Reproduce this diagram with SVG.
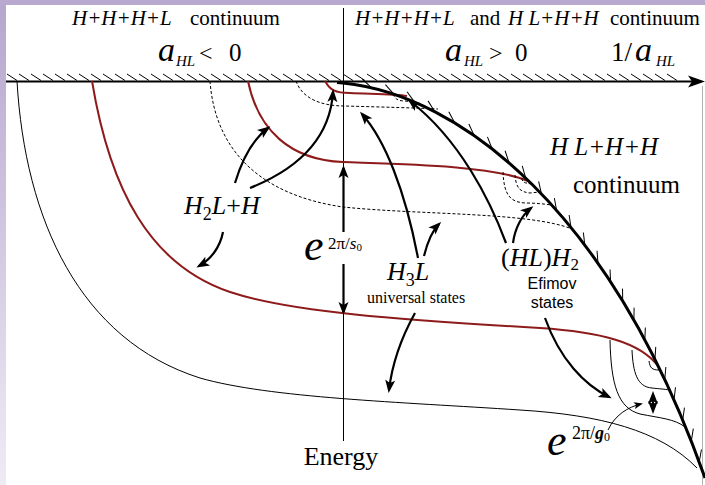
<svg xmlns="http://www.w3.org/2000/svg" width="705" height="485" viewBox="0 0 705 485">
<defs>
<linearGradient id="lg" x1="0" y1="0" x2="0" y2="1">
<stop offset="0" stop-color="#b6a6ce"/>
<stop offset="1" stop-color="#efebf5"/>
</linearGradient>
<marker id="tick" markerUnits="userSpaceOnUse" markerWidth="30" markerHeight="30" refX="0" refY="0" orient="auto" overflow="visible">
<path d="M0,0 L-11,-6.5" stroke="#000" stroke-width="1" fill="none"/>
</marker>
<marker id="ah" markerUnits="userSpaceOnUse" markerWidth="30" markerHeight="30" refX="0" refY="0" orient="auto-start-reverse" overflow="visible">
<path d="M3,0 L-10,-5 L-7,0 L-10,5 Z" fill="#000"/>
</marker>
<marker id="ahs" markerUnits="userSpaceOnUse" markerWidth="20" markerHeight="20" refX="0" refY="0" orient="auto" overflow="visible">
<path d="M2,0 L-7,-3.5 L-5,0 L-7,3.5 Z" fill="#000"/>
</marker>
</defs>
<style>
.serif{font-family:"Liberation Serif","Times New Roman",serif;fill:#000}
.sans{font-family:"Liberation Sans",Arial,sans-serif;fill:#000}
.it{font-style:italic}
.red{fill:none;stroke:#8e1b1b;stroke-width:2}
.thin{fill:none;stroke:#000;stroke-width:1}
.dash{fill:none;stroke:#000;stroke-width:1;stroke-dasharray:3,2}
.arr{fill:none;stroke:#000;stroke-width:2.2;marker-end:url(#ah)}
</style>
<rect x="0" y="0" width="705" height="485" fill="#fff"/>
<rect x="0" y="0" width="6" height="485" fill="url(#lg)"/>
<rect x="0" y="0" width="705" height="5" fill="#b9a9d1"/>
<line x1="702.5" y1="86" x2="702.5" y2="485" stroke="#b0b0b0" stroke-width="1"/>

<g id="axes">
<path d="M6,81.5 H692" stroke="#000" stroke-width="1.8" fill="none"/>
<path d="M705,81.5 L688,75.5 L692,81.5 L688,87.5 Z" fill="#000"/>
<path d="M7,74l10,6.5M19,74l10,6.5M31,74l10,6.5M43,74l10,6.5M55,74l10,6.5M67,74l10,6.5M79,74l10,6.5M91,74l10,6.5M103,74l10,6.5M115,74l10,6.5M127,74l10,6.5M139,74l10,6.5M151,74l10,6.5M163,74l10,6.5M175,74l10,6.5M187,74l10,6.5M199,74l10,6.5M211,74l10,6.5M223,74l10,6.5M235,74l10,6.5M247,74l10,6.5M259,74l10,6.5M271,74l10,6.5M283,74l10,6.5M295,74l10,6.5M307,74l10,6.5M319,74l10,6.5M331,74l10,6.5M343,74l10,6.5M355,74l10,6.5M367,74l10,6.5M379,74l10,6.5M391,74l10,6.5M403,74l10,6.5M415,74l10,6.5M427,74l10,6.5M439,74l10,6.5M451,74l10,6.5M463,74l10,6.5M475,74l10,6.5M487,74l10,6.5M499,74l10,6.5M511,74l10,6.5M523,74l10,6.5M535,74l10,6.5M547,74l10,6.5M559,74l10,6.5M571,74l10,6.5M583,74l10,6.5M595,74l10,6.5M607,74l10,6.5M619,74l10,6.5M631,74l10,6.5M643,74l10,6.5M655,74l10,6.5M667,74l10,6.5" stroke="#000" stroke-width="1" fill="none"/>
<path d="M343.5,8 V232 M343.5,264 V441" stroke="#000" stroke-width="1" fill="none"/>
</g>

<g id="states">
<path class="thin" d="M17,81 C25,220 80,340 200,378 C270,398 400,402 520,410 C600,415 660,430 697,468"/>
<path class="red" d="M92,81 C110,190 150,265 230,292 C290,312 400,320 540,328 C600,332 640,342 658,366"/>
<path class="red" d="M248,81 C258,130 290,160 343,162 C400,164 490,165 528,181"/>
<path class="red" d="M325,81 C330,90 335,93 350,93 C370,94 395,94 407,96"/>
<path class="dash" d="M210,81 C215,150 260,195 343,207 C420,215 530,212 572,229"/>
<path class="dash" d="M296,81 C302,98 320,106 345,106 C380,107 420,108 438,109"/>
<path class="dash" d="M393,94 C395,99 398,101 405,101 L414,102"/>
<path class="dash" d="M503,172 C504,195 510,202 525,203 C535,203 545,204 551,205"/>
<path class="dash" d="M515,175 C516,188 520,192 530,193 L540,192"/>
<path class="dash" d="M522,178 C522,182 524,183 532,184"/>
<path class="thin" d="M610,340 C611,385 618,408 640,414 C660,418 675,419 685,427"/>
<path class="thin" d="M632,350 C633,372 637,387 652,388 C660,389 665,389 669,390"/>
<path class="thin" d="M649,361 C650,368 652,370 659,370"/>
</g>

<g id="threshold">
<path d="M337,82.5 L343,83 C460,95 610,210 705,478" fill="none" stroke="#000" stroke-width="3"/>
<polyline fill="none" stroke="none" marker-mid="url(#tick)" points="343,83 371.7,87.9 393.8,94.2 414.6,102.1 434.8,111.7 454.8,123 474.2,135.6 492.1,148.8 509.1,162.9 525.7,178.1 541.5,193.9 556.7,210.6 571,227.6 584.8,245.2 598,263.5 610.6,282.2 622.7,301.4 633.9,320.4 644.8,340.2 654.9,359.6 664.7,379.8 674,400 682.7,420.3 691.3,441.2 699.2,462.1 705,478"/>
</g>

<g id="connectors">
<path class="arr" d="M235,183 C242,160 252,140 268,128"/>
<path class="arr" d="M250,188 C295,170 330,140 333,92"/>
<path class="arr" d="M223,232 C220,248 210,260 199,266"/>
<path class="arr" d="M343.5,232 V168"/>
<path class="arr" d="M343.5,264 V312"/>
<path class="arr" d="M418,258 C405,190 385,140 362,114"/>
<path class="arr" d="M424,256 C428,240 433,230 439,224"/>
<path class="arr" d="M415,313 C400,340 392,365 389,390"/>
<path class="arr" d="M506,243 C490,200 460,140 410,101"/>
<path class="arr" d="M513,243 C515,228 522,215 531,208"/>
<path class="arr" d="M545,318 C560,360 585,385 609,397"/>
<path d="M653,394 V411" fill="none" stroke="#000" stroke-width="2" marker-start="url(#ah)" marker-end="url(#ah)"/>
<path d="M608,430 C615,415 628,407 641,404" fill="none" stroke="#000" stroke-width="1" marker-end="url(#ahs)"/>
</g>

<g id="label-top-left">
<text class="serif" x="72" y="25" font-size="21"><tspan class="it">H+H+H+L</tspan><tspan x="190">continuum</tspan></text>
<text class="serif" y="61" font-size="25"><tspan class="it" x="158" font-size="34">a</tspan><tspan class="it" x="176" y="66" font-size="15">HL</tspan><tspan x="199" y="61" font-size="24">&lt;</tspan><tspan x="229" y="61">0</tspan></text>
</g>
<g id="label-top-right">
<text class="serif" x="355" y="25" font-size="21"><tspan class="it">H+H+H+L</tspan><tspan x="470">and</tspan><tspan class="it" x="508">H L+H+H</tspan><tspan x="610">continuum</tspan></text>
<text class="serif" y="61" font-size="25"><tspan class="it" x="445" font-size="34">a</tspan><tspan class="it" x="464" y="66" font-size="15">HL</tspan><tspan x="489" y="61" font-size="24">&gt;</tspan><tspan x="515" y="61">0</tspan></text>
<text class="serif" y="61" font-size="27"><tspan x="611">1/</tspan><tspan class="it" x="635" font-size="34">a</tspan><tspan class="it" x="656" y="66" font-size="15">HL</tspan></text>
</g>
<g id="label-hl-continuum">
<text class="serif it" x="550" y="155" font-size="25">H L+H+H</text>
<text class="serif" x="573" y="193" font-size="25">continuum</text>
</g>
<g id="label-h2l">
<text class="serif" x="184" y="214" font-size="26"><tspan class="it">H</tspan><tspan font-size="18" dy="6">2</tspan><tspan class="it" dy="-6">L</tspan><tspan>+</tspan><tspan class="it">H</tspan></text>
</g>
<g id="label-es0">
<text class="serif" x="304" y="260" font-size="44"><tspan class="it">e</tspan><tspan font-size="17" x="328" y="249">2π/</tspan><tspan class="it" font-size="17">s</tspan><tspan font-size="11" dy="2">0</tspan></text>
</g>
<g id="label-h3l">
<text class="serif" x="387" y="280" font-size="26"><tspan class="it">H</tspan><tspan font-size="18" dy="6">3</tspan><tspan class="it" dy="-6">L</tspan></text>
<text class="serif" x="367" y="303" font-size="16">universal states</text>
</g>
<g id="label-hlh2">
<text class="serif" x="501" y="266" font-size="26"><tspan>(</tspan><tspan class="it">HL</tspan><tspan>)</tspan><tspan class="it">H</tspan><tspan font-size="17" dy="4">2</tspan></text>
<text class="sans" x="552" y="289" font-size="16" text-anchor="middle">Efimov</text>
<text class="sans" x="552" y="308" font-size="16" text-anchor="middle">states</text>
</g>
<g id="label-eg0">
<text class="serif" x="547" y="455" font-size="44"><tspan class="it">e</tspan><tspan font-size="18" x="572" y="439">2π/</tspan><tspan class="it" font-weight="bold" font-size="18">g</tspan><tspan font-size="12" dy="2">0</tspan></text>
</g>
<g id="label-energy">
<text class="serif" x="341" y="465" font-size="26" text-anchor="middle">Energy</text>
</g>
</svg>
